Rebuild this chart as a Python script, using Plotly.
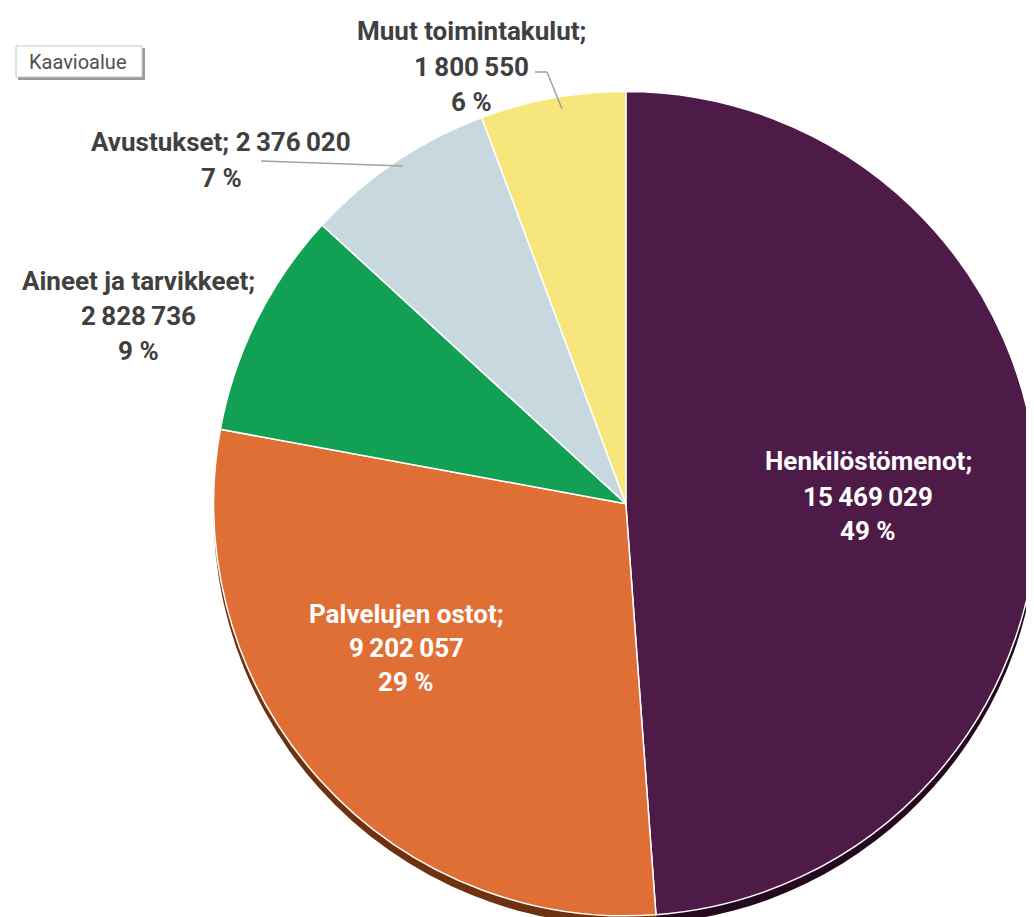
import plotly.graph_objects as go

W, H = 1034, 917

categories = ["Henkilöstömenot", "Palvelujen ostot", "Aineet ja tarvikkeet", "Avustukset", "Muut toimintakulut"]
values = [15469029, 9202057, 2828736, 2376020, 1800550]
pct_labels = ["49 %", "29 %", "9 %", "7 %", "6 %"]
colors = ["#4E1A47", "#E06F35", "#12A055", "#C7D9DF", "#F6E67C"]
shadow_colors = ["#24091F", "#6E3210", "#0A5A2F", "#7F9399", "#A89A40"]

def fmt(v):
    return f"{v:,}".replace(",", "\u2009")

def px(x, y):
    return x / W, 1 - y / H

FONT = "Roboto"
FS = 26

fig = go.Figure()

# shadow (3D rim)
fig.add_trace(go.Pie(
    labels=categories, values=values, sort=False, direction="clockwise", rotation=0,
    marker=dict(colors=shadow_colors, line=dict(width=0)),
    textinfo="none", hoverinfo="skip", showlegend=False,
    domain=dict(x=[0.195, 1.0], y=[0.0, 0.899]),
))
fig.add_trace(go.Pie(
    labels=categories, values=values, sort=False, direction="clockwise", rotation=0,
    marker=dict(colors=colors, line=dict(color="#FFFFFF", width=1.5)),
    textinfo="none", showlegend=False,
    domain=dict(x=[0.195, 1.0], y=[0.010, 0.909]),
))

dark = "#404040"
anns = []

def line_ann(x, y, text, color, anchor="center", size=FS, family=FONT, weight="bold"):
    ax, ay = px(x, y)
    anns.append(dict(x=ax, y=ay, xref="paper", yref="paper", text=text, showarrow=False,
                     xanchor=anchor, yanchor="middle",
                     font=dict(family=family, size=size, color=color, weight=weight)))

# Henkilöstömenot (inside)
line_ann(860, 453, categories[0] + ";", "white")
line_ann(860, 489, fmt(values[0]), "white")
line_ann(860, 523, pct_labels[0], "white")
# Palvelujen ostot (inside)
line_ann(398, 606, categories[1] + ";", "white")
line_ann(398, 640, fmt(values[1]), "white")
line_ann(398, 674, pct_labels[1], "white")
# Aineet ja tarvikkeet (outside)
line_ann(130, 273, categories[2] + ";", dark)
line_ann(130, 308, fmt(values[2]), dark)
line_ann(130, 343, pct_labels[2], dark)
# Avustukset (outside)
line_ann(213, 134, categories[3] + "; " + fmt(values[3]), dark)
line_ann(213, 170, pct_labels[3], dark)
# Muut toimintakulut (outside)
line_ann(463, 23, categories[4] + ";", dark)
line_ann(463, 59, fmt(values[4]), dark)
line_ann(463, 94, pct_labels[4], dark)

shapes = []

def rect(xa, ya, xb, yb, fill, border=None):
    a = px(xa, ya); b = px(xb, yb)
    shapes.append(dict(type="rect", xref="paper", yref="paper", x0=a[0], y0=a[1], x1=b[0], y1=b[1],
                       fillcolor=fill, layer="above",
                       line=dict(width=1 if border else 0, color=border or fill)))

# Kaavioalue tooltip
rect(10, 40, 137, 72, "#9A9A9A")
rect(8, 38, 134, 69, "#FFFFFF", "#C8C8C8")
ka = px(70, 54)
anns.append(dict(x=ka[0], y=ka[1], xref="paper", yref="paper", text="Kaavioalue", showarrow=False,
                 xanchor="center", yanchor="middle",
                 font=dict(family="Roboto", size=20, color="#505050")))

def seg(xa, ya, xb, yb):
    a = px(xa, ya); b = px(xb, yb)
    shapes.append(dict(type="line", xref="paper", yref="paper", x0=a[0], y0=a[1], x1=b[0], y1=b[1],
                       line=dict(color="#A0A0A0", width=1.5), layer="above"))

# leader lines
seg(253, 153, 395, 158)
seg(527, 64, 539, 64)
seg(539, 64, 554, 101)

fig.update_layout(
    width=W, height=H, margin=dict(l=0, r=0, t=0, b=0),
    paper_bgcolor="white", plot_bgcolor="white",
    annotations=anns, shapes=shapes, showlegend=False,
)

fig.write_html("out.html")
